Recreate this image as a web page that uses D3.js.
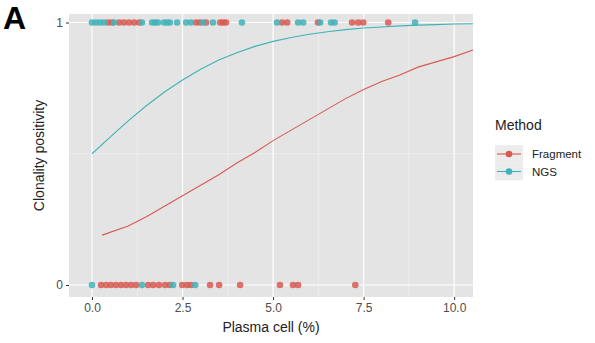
<!DOCTYPE html>
<html><head><meta charset="utf-8">
<script src="https://cdn.jsdelivr.net/npm/d3@7"></script>
<style>body{margin:0;background:#fff}svg{display:block}text{font-family:"Liberation Sans",Arial,sans-serif}</style>
</head><body><svg id="c" width="595" height="343"></svg>
<script>
// ---- data ----
const methods = ["Fragment", "NGS"];
const colors = ["#d75a52", "#3fb3b8"];
const xTicks = [0, 2.5, 5, 7.5, 10];
const xTickLabels = ["0.0", "2.5", "5.0", "7.5", "10.0"];
const yTicks = [0, 1];
const yTickLabels = ["0", "1"];

// observations (plasma cell %) by outcome
const fragPos = [0.44, 0.55, 0.75, 0.88, 1.02, 1.16, 1.3, 2.87, 2.98, 3.15, 3.54, 3.62, 3.7, 5.25, 5.39, 6.24, 7.18, 7.35, 7.49, 8.18];
const fragNeg = [0.25, 0.39, 0.52, 0.66, 0.8, 0.94, 1.08, 1.22, 1.55, 1.69, 1.85, 2.02, 2.15, 2.49, 2.62, 2.73, 3.26, 3.51, 4.09, 5.19, 5.55, 5.69, 7.27];
const ngsPos = [0.0, 0.11, 0.22, 0.33, 0.61, 1.38, 1.66, 1.74, 1.82, 1.99, 2.07, 2.15, 2.35, 2.6, 2.73, 3.07, 3.34, 4.14, 5.11, 5.69, 5.83, 6.3, 6.6, 6.7, 8.92];
const ngsNeg = [0.0, 1.38, 2.24, 2.85];

// fitted curves
const fragCurveX = [0.28, 1, 1.5, 2, 2.5, 3, 3.5, 4, 4.5, 5, 5.5, 6, 6.5, 7, 7.5, 8, 8.5, 9, 9.5, 10, 10.52];
const fragCurveY = [0.19, 0.225, 0.26, 0.30, 0.34, 0.38, 0.42, 0.465, 0.505, 0.55, 0.59, 0.63, 0.67, 0.71, 0.745, 0.775, 0.80, 0.83, 0.85, 0.87, 0.895];
const ngsCurveX = [0, 0.5, 1, 1.5, 2, 2.5, 3, 3.5, 4, 4.5, 5, 5.5, 6, 6.5, 7, 7.5, 8, 8.5, 9, 9.5, 10, 10.52];
const ngsCurveY = [0.5, 0.563, 0.625, 0.683, 0.735, 0.781, 0.822, 0.857, 0.885, 0.909, 0.928, 0.943, 0.955, 0.965, 0.973, 0.979, 0.983, 0.987, 0.990, 0.992, 0.994, 0.995];

// ---- drawing ----
const svg = d3.select("#c");
const P = {l: 69, r: 473, t: 14, b: 297};
const x = d3.scaleLinear().domain([-0.635, 10.52]).range([P.l, P.r]);
const y = d3.scaleLinear().domain([0, 1]).range([285, 22.5]);

svg.append("rect").attr("x", P.l).attr("y", P.t).attr("width", P.r - P.l).attr("height", P.b - P.t).attr("fill", "#e4e4e4");

const g = svg.append("g");
// minor grid
[1.25, 3.75, 6.25, 8.75].forEach(v => g.append("line").attr("x1", x(v)).attr("x2", x(v)).attr("y1", P.t).attr("y2", P.b).attr("stroke", "#f4f4f4").attr("stroke-width", 0.6));
[0.5].forEach(v => g.append("line").attr("x1", P.l).attr("x2", P.r).attr("y1", y(v)).attr("y2", y(v)).attr("stroke", "#f4f4f4").attr("stroke-width", 0.6));
// major grid
xTicks.forEach(v => g.append("line").attr("x1", x(v)).attr("x2", x(v)).attr("y1", P.t).attr("y2", P.b).attr("stroke", "#fff").attr("stroke-width", 1.2));
yTicks.forEach(v => g.append("line").attr("x1", P.l).attr("x2", P.r).attr("y1", y(v)).attr("y2", y(v)).attr("stroke", "#fff").attr("stroke-width", 1.2));

// axes
const xAxis = d3.axisBottom(x).tickValues(xTicks).tickFormat((d, i) => xTickLabels[i]).tickSize(3).tickPadding(3);
const ax = svg.append("g").attr("transform", `translate(0,${P.b})`).call(xAxis);
ax.select(".domain").remove();
ax.selectAll("line").attr("stroke", "#333");
ax.selectAll("text").attr("fill", "#4d4d4d").attr("font-size", 12);

const yAxis = d3.axisLeft(y).tickValues(yTicks).tickFormat((d, i) => yTickLabels[i]).tickSize(3).tickPadding(3);
const ay = svg.append("g").attr("transform", `translate(${P.l},0)`).call(yAxis);
ay.select(".domain").remove();
ay.selectAll("line").attr("stroke", "#333");
ay.selectAll("text").attr("fill", "#4d4d4d").attr("font-size", 12);

// points
const pts = [
  {m: 0, xs: fragPos, v: 1}, {m: 0, xs: fragNeg, v: 0},
  {m: 1, xs: ngsPos, v: 1}, {m: 1, xs: ngsNeg, v: 0}
];
pts.forEach(s => {
  g.selectAll(null).data(s.xs).enter().append("circle")
    .attr("cx", d => x(d)).attr("cy", y(s.v)).attr("r", 3.3)
    .attr("fill", colors[s.m]).attr("fill-opacity", 0.85);
});

// curves
const line = d3.line().x(d => x(d[0])).y(d => y(d[1]));
const curves = [d3.zip(fragCurveX, fragCurveY), d3.zip(ngsCurveX, ngsCurveY)];
curves.forEach((c, i) => g.append("path").attr("d", line(c)).attr("fill", "none").attr("stroke", colors[i]).attr("stroke-width", 1.1));

// titles
svg.append("text").attr("x", (P.l + P.r) / 2).attr("y", 332).attr("text-anchor", "middle").attr("font-size", 14).attr("fill", "#222").text("Plasma cell (%)");
svg.append("text").attr("transform", `translate(44,${(P.t + P.b) / 2}) rotate(-90)`).attr("text-anchor", "middle").attr("font-size", 14).attr("fill", "#222").text("Clonality positivity");
svg.append("text").attr("x", 3).attr("y", 29).attr("font-size", 32).attr("font-weight", "bold").attr("fill", "#000").text("A");

// legend
const L = svg.append("g").attr("transform", "translate(495,0)");
L.append("text").attr("x", 0).attr("y", 130).attr("font-size", 14).attr("fill", "#222").text("Method");
methods.forEach((m, i) => {
  const cy = 154 + i * 17.5;
  L.append("rect").attr("x", 0).attr("y", cy - 8.75).attr("width", 28).attr("height", 17.5).attr("fill", "#ececec");
  L.append("line").attr("x1", 2).attr("x2", 26).attr("y1", cy).attr("y2", cy).attr("stroke", colors[i]).attr("stroke-width", 1.1);
  L.append("circle").attr("cx", 14).attr("cy", cy).attr("r", 3.3).attr("fill", colors[i]);
  L.append("text").attr("x", 37).attr("y", cy + 4).attr("font-size", 11.5).attr("fill", "#222").text(m);
});
</script></body></html>
